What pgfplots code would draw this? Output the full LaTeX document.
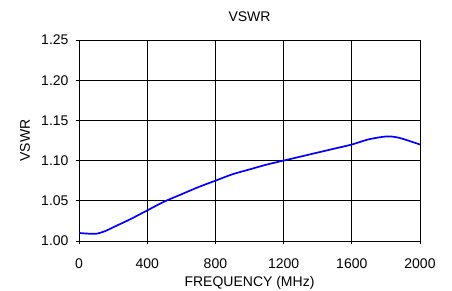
\documentclass[border=0pt]{standalone}
\usepackage{pgfplots}
\pgfplotsset{compat=1.18}
\usepackage{fontspec}
\setmainfont{Liberation Sans}
\begin{document}
\begin{tikzpicture}[x=1pt,y=1pt]
\path[use as bounding box] (0,0) rectangle (452,291);
\begin{axis}[
  at={(79pt,50pt)}, anchor=south west,
  scale only axis, width=341pt, height=201pt,
  xmin=0, xmax=2000, ymin=1.0, ymax=1.25,
  xtick={0,400,...,2000},
  ytick={1.00,1.05,1.10,1.15,1.20,1.25},
  yticklabel style={xshift=-4pt, /pgf/number format/fixed, /pgf/number format/fixed zerofill, /pgf/number format/precision=2},
  /pgf/number format/assume math mode=true,
  /pgf/number format/1000 sep={},
  grid=major,
  major grid style={black, line width=0.8pt},
  axis line style={black, line width=0.8pt},
  tick style={black, line width=0.8pt},
  tick align=outside, major tick length=3pt,
  xtick pos=bottom, ytick pos=left,
  tick label style={font=\fontsize{14}{16}\selectfont},
  xticklabel style={yshift=-11pt},
  every axis title/.style={at={(0.5,1)}, anchor=center, yshift=23pt, font=\fontsize{14}{16}\selectfont},
  every axis x label/.style={at={(0.5,0)}, anchor=center, yshift=-42pt, font=\fontsize{14}{16}\selectfont},
  every axis y label/.style={at={(0,0.5)}, rotate=90, anchor=center, yshift=54pt, font=\fontsize{14}{16}\selectfont},
  title={VSWR},
  xlabel={FREQUENCY (MHz)},
  ylabel={VSWR},
]
\addplot[blue, line width=1.7pt, smooth, tension=0.5] coordinates {
(0,1.010)(50,1.0092)(100,1.009)(150,1.012)(200,1.017)(300,1.027)(400,1.038)(500,1.049)(600,1.058)(700,1.067)(800,1.075)(900,1.083)(1000,1.089)(1100,1.095)(1200,1.100)(1300,1.105)(1400,1.110)(1500,1.115)(1600,1.120)(1700,1.1265)(1800,1.130)(1850,1.1295)(1900,1.127)(2000,1.120)
};
\end{axis}
\end{tikzpicture}
\end{document}
